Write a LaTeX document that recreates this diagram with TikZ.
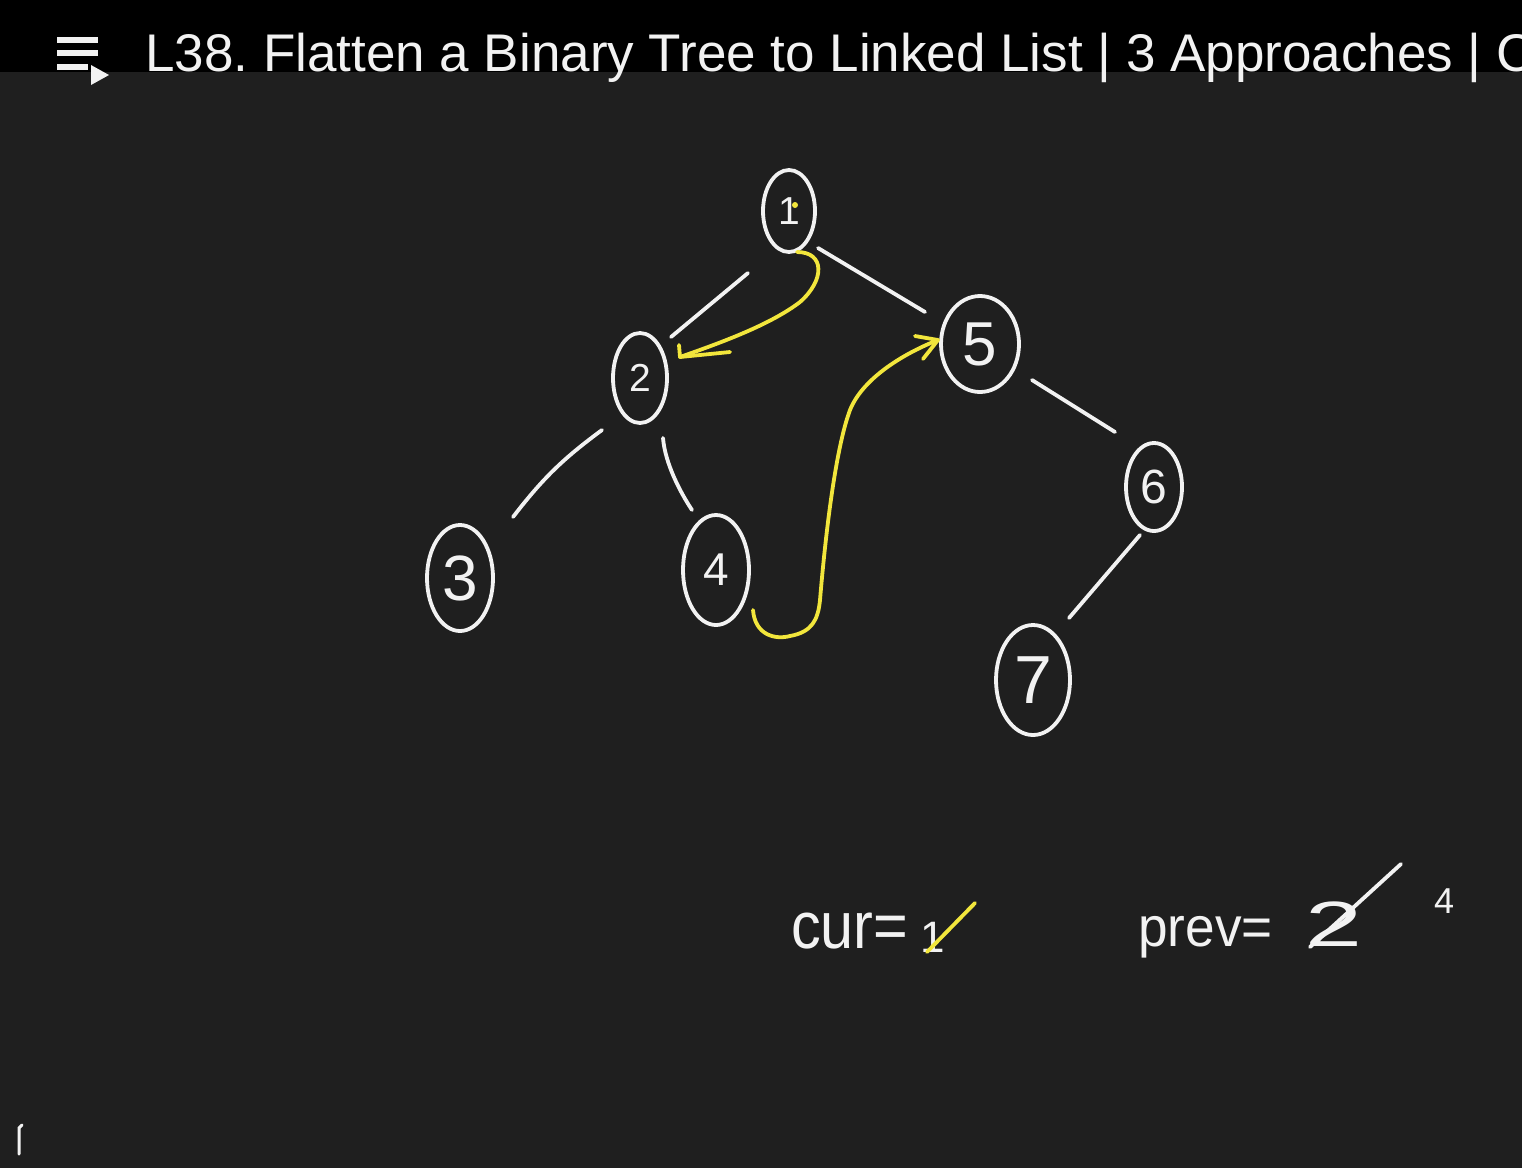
\documentclass[tikz,border=0pt]{standalone}
\usepackage{fontspec}
\setmainfont{Liberation Sans}
\usetikzlibrary{shapes.geometric}
\definecolor{bg}{HTML}{1F1F1F}
\definecolor{ink}{HTML}{F2F2F2}
\definecolor{hl}{HTML}{F2E63C}
\newcommand{\fs}[1]{\fontsize{#1}{#1}\selectfont}
\frenchspacing
\begin{document}
\begin{tikzpicture}[x=1pt,y=-1pt,
  treenode/.style={draw=ink, ellipse, line width=3.8pt, inner sep=0pt, text=ink},
  edge/.style={draw=ink, line width=3.8pt, line cap=round},
  hlpath/.style={draw=hl, line width=3.8pt, line cap=round, line join=round},
  hand/.style={text=ink, inner sep=0pt, anchor=base west, transform shape}]
\useasboundingbox (0,0) rectangle (1522,1168);
\fill[bg] (0,0) rectangle (1522,1168);
\fill[black] (0,0) rectangle (1522,72);
% title bar
\fill[ink] (57,37) rectangle (98,43);
\fill[ink] (57,50) rectangle (98,56);
\fill[ink] (57,64) rectangle (88,70);
\fill[ink] (91,65) -- (109,75) -- (91,85) -- cycle;
\begin{scope}
\clip (0,0) rectangle (1522,1168);
\node[text=ink, inner sep=0pt, anchor=base west, font=\fs{53}] (title) at (145,71)
  {L38. Flatten a Binary Tree to Linked List | 3 Approaches | C};
\end{scope}
% tree nodes
\node[treenode, minimum width=52pt, minimum height=82pt, font=\fs{39}] (n1) at (789,211) {1};
\node[treenode, minimum width=54pt, minimum height=90pt, font=\fs{39}] (n2) at (640,378) {2};
\node[treenode, minimum width=66pt, minimum height=106pt, font=\fs{64}] (n3) at (460,578) {3};
\node[treenode, minimum width=66pt, minimum height=110pt, font=\fs{46}] (n4) at (716,570) {4};
\node[treenode, minimum width=78pt, minimum height=96pt, font=\fs{62}] (n5) at (980,344) {5};
\node[treenode, minimum width=56pt, minimum height=88pt, font=\fs{48}] (n6) at (1154,487) {6};
\node[treenode, minimum width=74pt, minimum height=110pt, font=\fs{68}] (n7) at (1033,680) {7};
\fill[hl] (795,205) circle (3);
% edges
\draw[edge] ([shift={(-41,62)}]n1.center) -- ([shift={(31,-41)}]n2.center);
\draw[edge] ([shift={(29,37)}]n1.center) -- ([shift={(-55,-32)}]n5.center);
\draw[edge] ([shift={(-38,52)}]n2.center) to[bend right=8] ([shift={(53,-61)}]n3.center);
\draw[edge] ([shift={(23,60)}]n2.center) .. controls +(2,25) and +(-12,-18) .. ([shift={(-24,-60)}]n4.center);
\draw[edge] ([shift={(52,36)}]n5.center) -- ([shift={(-39,-55)}]n6.center);
\draw[edge] ([shift={(-14,48)}]n6.center) -- ([shift={(36,-62)}]n7.center);
% yellow arrows
\coordinate (tipA) at ([shift={(40,-21)}]n2.center);
\draw[hlpath] ([shift={(8,41)}]n1.center) .. controls +(28,0) and +(25,-22) .. (800,302)
  .. controls (770,325) and (720,343) .. (tipA);
\draw[hlpath] ([shift={(-1,-12)}]tipA) -- (tipA) -- ([shift={(50,-5)}]tipA);
\coordinate (tipB) at ([shift={(-42,-4)}]n5.center);
\draw[hlpath] ([shift={(37,40)}]n4.center) .. controls +(2,25) and +(-15,4) .. (790,636)
  .. controls (812,632) and (818,620) .. (820,600)
  .. controls (825,540) and (835,450) .. (850,410)
  .. controls (862,380) and (900,355) .. (tipB);
\draw[hlpath] ([shift={(-23,-4)}]tipB) -- (tipB) -- ([shift={(-15,19)}]tipB);
% bottom notes
\node[hand, font=\fs{66}, xscale=0.9] (cur) at (791,948) {cur=};
\node[hand, font=\fs{44}] (curval) at (920,952) {1};
\draw[hlpath] ([shift={(7,0)}]curval.base west) -- ([shift={(55,-49)}]curval.base west);
\node[hand, font=\fs{56}, xscale=0.95] (prev) at (1138,946) {prev=};
\node[hand, font=\fs{64}, xscale=1.6] (prevold) at (1305,946) {2};
\draw[edge] ([shift={(5,1)}]prevold.base west) -- ([shift={(96,-82)}]prevold.base west);
\node[hand, font=\fs{36}] (prevnew) at (1434,913) {4};
\draw[ink, line width=3pt, line cap=round] (19,1154) -- (19,1128) -- (22,1125);
\end{tikzpicture}
\end{document}
